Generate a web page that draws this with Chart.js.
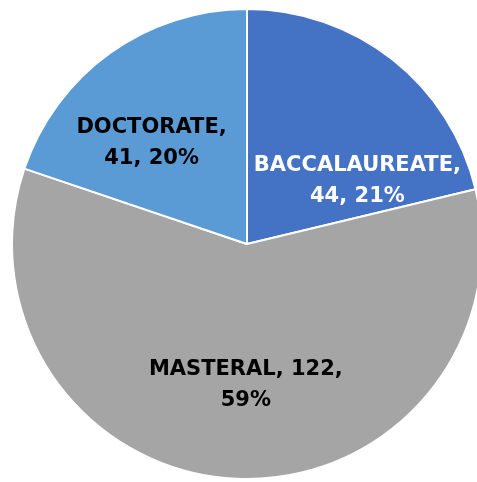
<!DOCTYPE html>
<html>
<head>
<meta charset="utf-8">
<script src="https://cdn.jsdelivr.net/npm/chart.js@4"></script>
<style>
  html, body { margin: 0; padding: 0; background: #fff; overflow: hidden; }
  #wrap { position: relative; width: 494px; height: 488px; }
</style>
</head>
<body>
<div id="wrap"><canvas id="degreeChart"></canvas></div>
<script>
// values
var categories = ["BACCALAUREATE", "MASTERAL", "DOCTORATE"];
var counts = [44, 122, 41];
var percents = [21, 59, 20];
var sliceColors = ["#4472C4", "#A5A5A5", "#5B9BD5"];
var labelColors = ["#ffffff", "#000000", "#000000"];

// where each label sits inside its slice: fraction of the slice's angle, fraction of radius
var labelAngleFrac = [0.79, 0.49, 0.39];
var labelRadiusFrac = [0.54, 0.60, 0.59];
var labelLines = [
  [categories[0] + ",", counts[0] + ", " + percents[0] + "%"],
  [categories[1] + ", " + counts[1] + ",", percents[1] + "%"],
  [categories[2] + ",", counts[2] + ", " + percents[2] + "%"]
];

var sliceLabels = {
  id: 'sliceLabels',
  afterDatasetsDraw: function(chart) {
    var ctx = chart.ctx;
    var meta = chart.getDatasetMeta(0);
    ctx.save();
    ctx.font = 'bold 21px "DejaVu Sans"';
    ctx.textAlign = 'center';
    ctx.textBaseline = 'middle';
    meta.data.forEach(function(arc, i) {
      var p = arc.getProps(['x', 'y', 'startAngle', 'endAngle', 'outerRadius'], true);
      var a = p.startAngle + (p.endAngle - p.startAngle) * labelAngleFrac[i];
      var r = p.outerRadius * labelRadiusFrac[i];
      var cx = p.x + Math.cos(a) * r;
      var cy = p.y + Math.sin(a) * r;
      ctx.fillStyle = labelColors[i];
      var lines = labelLines[i];
      var lh = 31;
      for (var k = 0; k < lines.length; k++) {
        ctx.fillText(lines[k], cx, cy + (k - (lines.length - 1) / 2) * lh);
      }
    });
    ctx.restore();
  }
};

new Chart(document.getElementById('degreeChart'), {
  type: 'pie',
  data: {
    labels: categories,
    datasets: [{
      data: counts,
      backgroundColor: sliceColors,
      borderColor: '#ffffff',
      borderWidth: 2
    }]
  },
  options: {
    responsive: true,
    maintainAspectRatio: false,
    animation: false,
    layout: { padding: { top: 8, bottom: 8, left: 11, right: 11 } },
    plugins: {
      legend: { display: false },
      tooltip: { enabled: false }
    }
  },
  plugins: [sliceLabels]
});
</script>
</body>
</html>
